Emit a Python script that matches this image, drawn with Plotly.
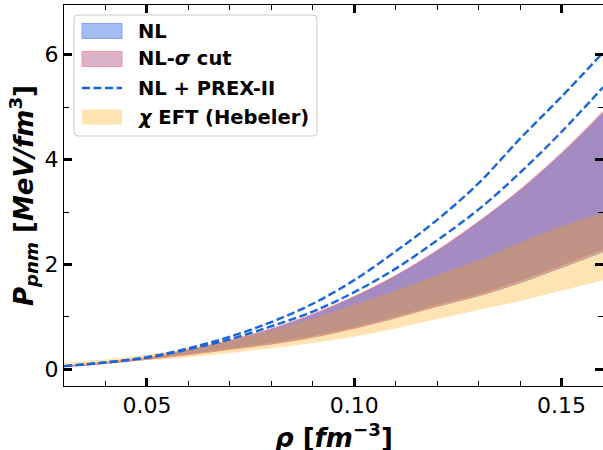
import plotly.graph_objects as go

# density grid [fm^-3]
rho = [0.03, 0.04, 0.05, 0.06, 0.07, 0.08, 0.09, 0.10, 0.11, 0.12, 0.13, 0.14, 0.15, 0.16]

# NL models: pressure band [MeV/fm^3]
nl_upper = [0.06, 0.13, 0.22, 0.37, 0.55, 0.77, 1.05, 1.38, 1.78, 2.25, 2.80, 3.40, 4.10, 4.88]
nl_lower = [0.05, 0.11, 0.19, 0.28, 0.38, 0.48, 0.61, 0.78, 0.98, 1.20, 1.40, 1.65, 1.94, 2.24]

# NL models after the sigma cut
sig_upper = [0.06, 0.13, 0.22, 0.37, 0.55, 0.77, 1.05, 1.39, 1.79, 2.27, 2.82, 3.43, 4.13, 4.92]
sig_lower = [0.05, 0.11, 0.19, 0.28, 0.38, 0.49, 0.62, 0.79, 0.99, 1.22, 1.42, 1.68, 1.97, 2.27]

# NL + PREX-II bounds
prex_upper = [0.06, 0.13, 0.23, 0.40, 0.62, 0.90, 1.25, 1.70, 2.25, 2.85, 3.55, 4.40, 5.20, 6.04]
prex_lower = [0.06, 0.13, 0.22, 0.38, 0.57, 0.82, 1.10, 1.47, 1.92, 2.46, 3.05, 3.75, 4.53, 5.38]

# chiral EFT band (Hebeler et al.)
eft_upper = [0.12, 0.19, 0.28, 0.40, 0.55, 0.74, 0.97, 1.23, 1.50, 1.80, 2.08, 2.42, 2.73, 2.98]
eft_lower = [0.07, 0.11, 0.17, 0.23, 0.31, 0.40, 0.50, 0.62, 0.78, 0.96, 1.13, 1.30, 1.50, 1.70]

# legend labels
legend_labels = ["<b>NL</b>", "<b>NL-<i>σ</i> cut</b>", "<b>NL + PREX-II</b>",
                 "<b><i>χ</i> EFT (Hebeler)</b>"]

FONT = "DejaVu Sans"
W, H = 603, 450
ML, MR, MT, MB = 64, 0, 5, 64
PW, PH = W - ML - MR, H - MT - MB

NL_FILL, NL_EDGE = "rgba(100,149,237,0.6)", "rgba(140,160,250,1)"
SIG_FILL, SIG_EDGE = "rgba(168,62,118,0.4)", "rgba(250,150,150,1)"
EFT_FILL = "rgba(255,165,0,0.3)"
DASH_COLOR = "#1a66d9"

fig = go.Figure()


def add_band(upper, lower, fillcolor, edgecolor, edgewidth):
    # lower edge first, then the upper edge filled down to it
    fig.add_trace(go.Scatter(
        x=rho, y=lower, mode="lines",
        line=dict(color=edgecolor, width=edgewidth, shape="spline"),
        showlegend=False, hoverinfo="skip",
    ))
    fig.add_trace(go.Scatter(
        x=rho, y=upper, mode="lines", fill="tonexty", fillcolor=fillcolor,
        line=dict(color=edgecolor, width=edgewidth, shape="spline"),
        showlegend=False,
    ))


add_band(nl_upper, nl_lower, NL_FILL, NL_EDGE, 1)
add_band(sig_upper, sig_lower, SIG_FILL, SIG_EDGE, 1)
add_band(eft_upper, eft_lower, EFT_FILL, "rgba(255,165,0,0)", 0)

dash_line = dict(color=DASH_COLOR, width=2.4, dash="8px,3.5px", shape="spline")
for ys in (prex_upper, prex_lower):
    fig.add_trace(go.Scatter(x=rho, y=ys, mode="lines", line=dash_line,
                             showlegend=False))


# ---- legend box drawn in pixel units converted to paper coordinates ----
def px(xp):
    return (xp - ML) / PW


def py(yp):
    return (H - MB - yp) / PH


def rounded_box(x0, y0, x1, y1, r):
    pts = [
        f"M{px(x0 + r)},{py(y0)}",
        f"L{px(x1 - r)},{py(y0)}",
        f"Q{px(x1)},{py(y0)} {px(x1)},{py(y0 + r)}",
        f"L{px(x1)},{py(y1 - r)}",
        f"Q{px(x1)},{py(y1)} {px(x1 - r)},{py(y1)}",
        f"L{px(x0 + r)},{py(y1)}",
        f"Q{px(x0)},{py(y1)} {px(x0)},{py(y1 - r)}",
        f"L{px(x0)},{py(y0 + r)}",
        f"Q{px(x0)},{py(y0)} {px(x0 + r)},{py(y0)}",
        "Z",
    ]
    return " ".join(pts)


shapes = [dict(type="path", xref="paper", yref="paper",
               path=rounded_box(74, 15, 317, 136, 4),
               fillcolor="rgba(255,255,255,0.8)",
               line=dict(color="#cccccc", width=1), layer="above")]

row_y = [31, 59, 88, 117]
patch_x0, patch_x1, patch_h = 82, 122, 15
patch_styles = [(NL_FILL, NL_EDGE), (SIG_FILL, SIG_EDGE), None, (EFT_FILL, None)]
for yc, style in zip(row_y, patch_styles):
    if style is None:
        shapes.append(dict(type="line", xref="paper", yref="paper",
                           x0=px(patch_x0), x1=px(patch_x1), y0=py(yc), y1=py(yc),
                           line=dict(color=DASH_COLOR, width=2.4, dash="8px,3.5px"),
                           layer="above"))
    else:
        fill, edge = style
        shapes.append(dict(type="rect", xref="paper", yref="paper",
                           x0=px(patch_x0), x1=px(patch_x1),
                           y0=py(yc + patch_h / 2), y1=py(yc - patch_h / 2),
                           fillcolor=fill,
                           line=dict(color=edge if edge else "rgba(0,0,0,0)",
                                     width=1 if edge else 0),
                           layer="above"))

annotations = [dict(text=lab, xref="paper", yref="paper", x=px(136), y=py(yc),
                    xanchor="left", yanchor="middle", showarrow=False,
                    font=dict(family=FONT, size=19.5, color="black"))
               for lab, yc in zip(legend_labels, row_y)]

# x-axis title placed below the tick labels
annotations.append(dict(
    text="<b><i>ρ</i> [<i>fm</i><sup>−3</sup>]</b>",
    xref="paper", yref="paper", x=0.5, y=py(436),
    xanchor="center", yanchor="middle", showarrow=False,
    font=dict(family=FONT, size=26, color="black"),
))

axis_common = dict(
    showline=True, linecolor="black", linewidth=1, mirror="ticks",
    ticks="inside", ticklen=8, tickwidth=3, tickcolor="black",
    showgrid=False, zeroline=False,
    tickfont=dict(family=FONT, size=22, color="black"),
)

fig.update_xaxes(
    range=[0.03, 0.16], tickvals=[0.05, 0.10, 0.15],
    ticktext=["0.05", "0.10", "0.15"],
    minor=dict(ticks="inside", ticklen=5, tickwidth=1, tickcolor="black",
               dtick=0.01, tick0=0.0, showgrid=False),
    **axis_common,
)
fig.update_yaxes(
    range=[-0.32, 6.95], tickvals=[0, 2, 4, 6],
    minor=dict(ticks="inside", ticklen=5, tickwidth=1, tickcolor="black",
               dtick=1, tick0=0, showgrid=False),
    title=dict(text="<b><i>P</i><sub><i>pnm</i></sub> [<i>MeV/fm</i><sup>3</sup>]</b>",
               font=dict(family=FONT, size=26, color="black"), standoff=3),
    **axis_common,
)

fig.update_layout(
    width=W, height=H,
    margin=dict(l=ML, r=MR, t=MT, b=MB),
    paper_bgcolor="white", plot_bgcolor="white",
    font=dict(family=FONT, color="black"),
    showlegend=False,
    shapes=shapes,
    annotations=annotations,
)

fig.write_html("out.html")
